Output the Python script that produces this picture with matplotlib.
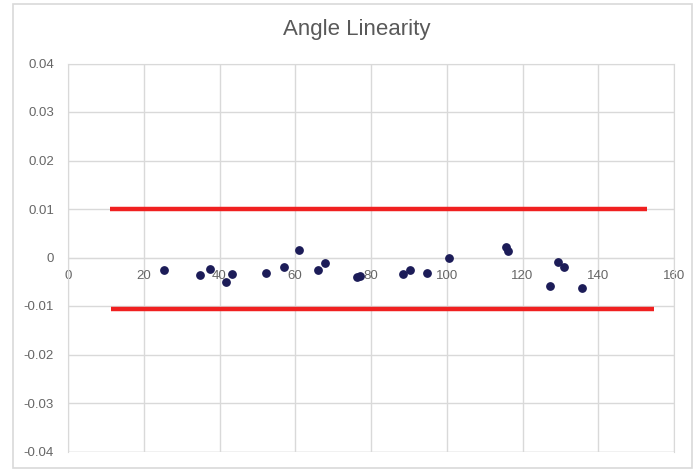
import matplotlib
matplotlib.use("Agg")
import matplotlib.pyplot as plt
from matplotlib.patches import Rectangle

# Data
x_vals = [25.4, 34.9, 37.4, 41.6, 43.2, 52.4, 57.1, 61.1, 66.0, 67.9, 76.3, 77.0,
          88.5, 90.4, 94.8, 100.5, 115.6, 116.1, 127.2, 129.4, 130.9, 135.6]
y_vals = [-0.0026, -0.0037, -0.0023, -0.0051, -0.0034, -0.0031, -0.0020, 0.0016,
          -0.0026, -0.0011, -0.0040, -0.0039, -0.0035, -0.0026, -0.0032, -0.0001,
          0.0021, 0.0013, -0.0059, -0.0009, -0.0020, -0.0062]
upper_x = [11.2, 153.0]
upper_y = [0.0100, 0.0100]
lower_x = [11.4, 154.6]
lower_y = [-0.0106, -0.0106]
x_ticks = [0, 20, 40, 60, 80, 100, 120, 140, 160]
y_ticks = [-0.04, -0.03, -0.02, -0.01, 0, 0.01, 0.02, 0.03, 0.04]
y_labels = ["-0.04", "-0.03", "-0.02", "-0.01", "0", "0.01", "0.02", "0.03", "0.04"]
title = "Angle Linearity"

plt.rcParams['font.family'] = ['Liberation Sans', 'DejaVu Sans']
fig = plt.figure(figsize=(6.93, 4.71), dpi=100)
fig.patch.set_facecolor('white')
fig.patches.append(Rectangle((13/693, 3/471), 679/693, 464/471, transform=fig.transFigure,
                             fill=False, edgecolor='#D9D9D9', linewidth=1.2))

ax = fig.add_axes([68/693, 19.5/471, 606/693, 388/471])
ax.set_xlim(0, 160)
ax.set_ylim(-0.04, 0.04)
ax.set_xticks(x_ticks)
ax.set_yticks(y_ticks)
ax.set_yticklabels(y_labels)
ax.grid(True, color='#D9D9D9', linewidth=1.0)
ax.set_axisbelow(True)
for s in ['top', 'right', 'left']:
    ax.spines[s].set_color('#D9D9D9')
ax.spines['bottom'].set_position(('data', 0))
ax.spines['bottom'].set_color('#D9D9D9')
ax.axhline(-0.04, color='#D9D9D9', linewidth=1.0, zorder=0)
ax.tick_params(axis='both', length=0, labelsize=9.5, labelcolor='#666666')
ax.tick_params(axis='x', pad=9)
ax.tick_params(axis='y', pad=10)

ax.plot(upper_x, upper_y, color='#F02020', linewidth=3.2, solid_capstyle='butt', zorder=3)
ax.plot(lower_x, lower_y, color='#F02020', linewidth=3.2, solid_capstyle='butt', zorder=3)
ax.scatter(x_vals, y_vals, s=28, color='#1C1C58', zorder=4)

fig.text(357/693, 1 - 30/471, title, ha='center', va='center', fontsize=16, color='#595959')

fig.savefig('out.png', dpi=100)
